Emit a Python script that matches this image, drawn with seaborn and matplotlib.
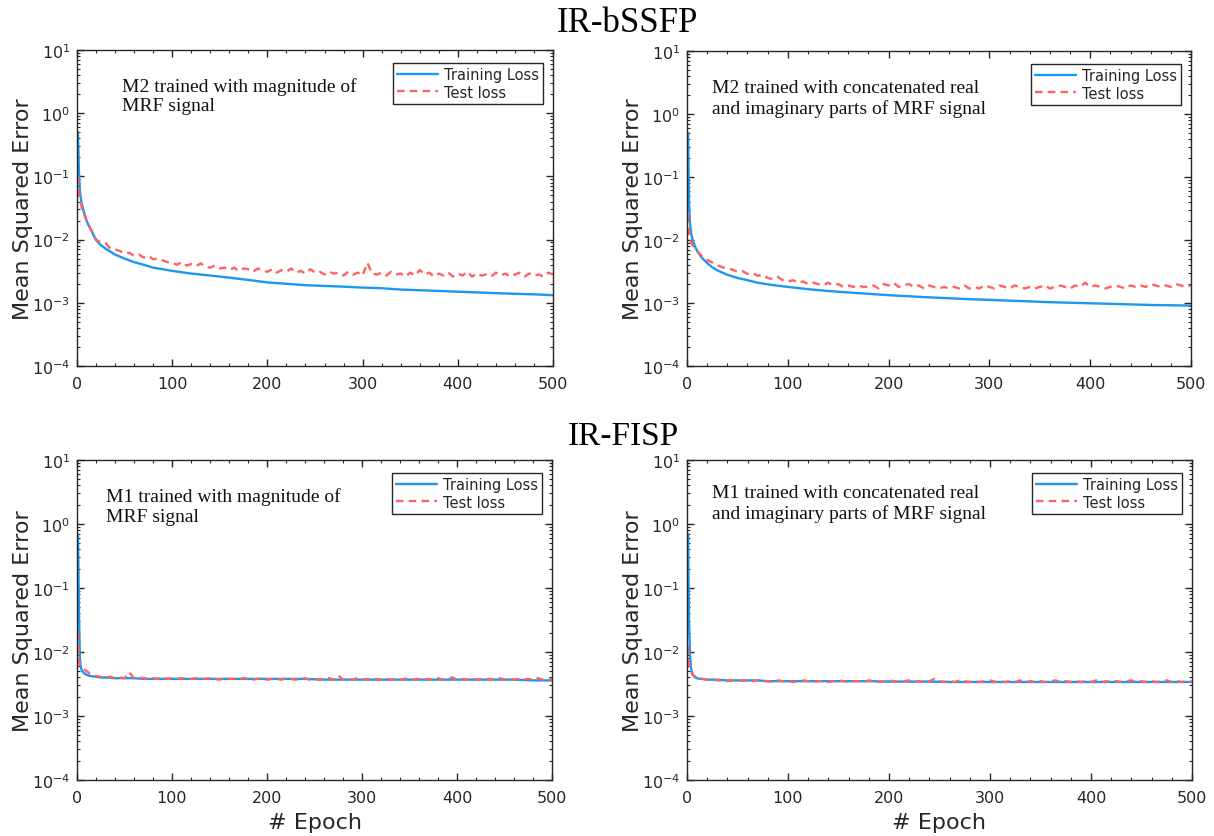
import numpy as np
import pandas as pd
import matplotlib
matplotlib.use("Agg")
import matplotlib.pyplot as plt
from matplotlib.ticker import MultipleLocator, LogLocator, NullFormatter
import seaborn as sns

# ---------------- data ----------------
ep_train = [1, 2, 3, 4, 5, 6, 8, 10, 12, 15, 20, 25, 30, 40, 50, 60, 70, 80, 90, 100,
            120, 140, 160, 180, 200, 220, 240, 260, 280, 300, 320, 340, 360, 380, 400,
            420, 440, 460, 480, 500]

ep_test = [1, 2, 3] + list(range(5, 501, 5))

# IR-bSSFP, magnitude
bssfp_mag_train = [0.5, 0.12, 0.06, 0.045, 0.037, 0.032, 0.025, 0.020, 0.017, 0.014,
                   0.0098, 0.0082, 0.0072, 0.0058, 0.0050, 0.0044, 0.0040, 0.0036, 0.0034, 0.0032,
                   0.0029, 0.0027, 0.0025, 0.0023, 0.0021, 0.0020, 0.0019, 0.00185, 0.0018, 0.00174,
                   0.0017, 0.00162, 0.00158, 0.00154, 0.0015, 0.00146, 0.00142, 0.00139, 0.00136, 0.00132]
bssfp_mag_test = [0.10, 0.06, 0.045,
                  0.032, 0.020, 0.014, 0.0100, 0.0090, 0.0088, 0.0072, 0.0070, 0.0066, 0.0060,
                  0.0062, 0.0055, 0.0058, 0.0052, 0.0055, 0.0049, 0.0050, 0.0047, 0.0044, 0.0043,
                  0.0040, 0.0044, 0.0039, 0.0041, 0.0038, 0.0042, 0.0037, 0.0036, 0.0039, 0.0035,
                  0.0036, 0.0033, 0.0036, 0.0032, 0.0035, 0.0034, 0.0031, 0.0035, 0.0032, 0.0031,
                  0.0034, 0.0030, 0.0033, 0.0031, 0.0035, 0.0030, 0.0032, 0.0029, 0.0034, 0.0030,
                  0.0031, 0.0028, 0.0031, 0.0029, 0.0030, 0.0027, 0.0031, 0.0028, 0.0030, 0.0027,
                  0.0043, 0.0029, 0.0028, 0.0030, 0.0027, 0.0031, 0.0028, 0.0029, 0.0026, 0.0030,
                  0.0027, 0.0033, 0.0028, 0.0030, 0.0026, 0.0029, 0.0027, 0.0030, 0.0026, 0.0029,
                  0.0027, 0.0031, 0.0026, 0.0029, 0.0027, 0.0028, 0.0026, 0.0030, 0.0027, 0.0029,
                  0.0026, 0.0028, 0.0030, 0.0026, 0.0029, 0.0027, 0.0028, 0.0026, 0.0030, 0.0028]

# IR-bSSFP, real + imaginary
bssfp_ri_train = [0.5, 0.04, 0.018, 0.013, 0.011, 0.0095, 0.0078, 0.0068, 0.0060, 0.0052,
                  0.0043, 0.0037, 0.0033, 0.0028, 0.0025, 0.0023, 0.0021, 0.00198, 0.00188, 0.0018,
                  0.00166, 0.00155, 0.00147, 0.0014, 0.00133, 0.00128, 0.00123, 0.00119, 0.00115, 0.00112,
                  0.00109, 0.00106, 0.00103, 0.00101, 0.00099, 0.00097, 0.00095, 0.00093, 0.00092, 0.00091]
bssfp_ri_test = [0.025, 0.013, 0.010,
                 0.0085, 0.0066, 0.0055, 0.0048, 0.0044, 0.0040, 0.0037, 0.0035, 0.0034, 0.0031,
                 0.0032, 0.0029, 0.0030, 0.0027, 0.0028, 0.0025, 0.0024, 0.0026, 0.0023, 0.0022,
                 0.0023, 0.0021, 0.0022, 0.0020, 0.0021, 0.0020, 0.0019, 0.0021, 0.0019, 0.0020,
                 0.0018, 0.0019, 0.0018, 0.0019, 0.0018, 0.0018, 0.0019, 0.0017, 0.0020, 0.0019,
                 0.0021, 0.0018, 0.0019, 0.0020, 0.0018, 0.0019, 0.0017, 0.0019, 0.0018, 0.0017,
                 0.0018, 0.0017, 0.0018, 0.0017, 0.0019, 0.0017, 0.0018, 0.0017, 0.0019, 0.0018,
                 0.0017, 0.0019, 0.0018, 0.0017, 0.0019, 0.0018, 0.0017, 0.0018, 0.0017, 0.0018,
                 0.0019, 0.0017, 0.0018, 0.0019, 0.0018, 0.0017, 0.0019, 0.0018, 0.0021, 0.0018,
                 0.0019, 0.0018, 0.0017, 0.0018, 0.0019, 0.0018, 0.0017, 0.0019, 0.0018, 0.0019,
                 0.0018, 0.0020, 0.0019, 0.0018, 0.0019, 0.0018, 0.0020, 0.0019, 0.0018, 0.0019]

# IR-FISP, magnitude
fisp_mag_train = [0.7, 0.05, 0.008, 0.0058, 0.0052, 0.0049, 0.0046, 0.0044, 0.0043, 0.0042,
                  0.0041, 0.0040, 0.0040, 0.0039, 0.0039, 0.0039, 0.0038, 0.0038, 0.0038, 0.0038,
                  0.0038, 0.0038, 0.0038, 0.0038, 0.0038, 0.0038, 0.0038, 0.0037, 0.0037, 0.0037,
                  0.0037, 0.0037, 0.0037, 0.0037, 0.0037, 0.0037, 0.0037, 0.0037, 0.0036, 0.0036]
fisp_mag_test = [0.020, 0.008, 0.0062,
                 0.0058, 0.0050, 0.0045, 0.0042, 0.0041, 0.0040, 0.0041, 0.0039, 0.0040, 0.0039,
                 0.0048, 0.0039, 0.0040, 0.0039, 0.0038, 0.0039, 0.0038, 0.0040, 0.0038, 0.0039,
                 0.0038, 0.0039, 0.0038, 0.0038, 0.0039, 0.0038, 0.0038, 0.0039, 0.0038, 0.0037,
                 0.0039, 0.0038, 0.0038, 0.0037, 0.0039, 0.0038, 0.0037, 0.0038, 0.0039, 0.0037,
                 0.0038, 0.0038, 0.0037, 0.0039, 0.0038, 0.0037, 0.0038, 0.0039, 0.0037, 0.0038,
                 0.0037, 0.0038, 0.0039, 0.0037, 0.0043, 0.0037, 0.0038, 0.0037, 0.0039, 0.0037,
                 0.0038, 0.0037, 0.0038, 0.0037, 0.0039, 0.0037, 0.0038, 0.0037, 0.0038, 0.0039,
                 0.0037, 0.0038, 0.0037, 0.0038, 0.0037, 0.0039, 0.0037, 0.0038, 0.0040, 0.0037,
                 0.0038, 0.0037, 0.0039, 0.0037, 0.0038, 0.0037, 0.0038, 0.0037, 0.0039, 0.0037,
                 0.0038, 0.0037, 0.0038, 0.0037, 0.0038, 0.0037, 0.0039, 0.0037, 0.0038, 0.0037]

# IR-FISP, real + imaginary
fisp_ri_train = [0.7, 0.03, 0.009, 0.0055, 0.0048, 0.0043, 0.0040, 0.0039, 0.0038, 0.0038,
                 0.0037, 0.0037, 0.0037, 0.0036, 0.0036, 0.0036, 0.0036, 0.0035, 0.0035, 0.0035,
                 0.0035, 0.0035, 0.0035, 0.0035, 0.00345, 0.00345, 0.00345, 0.0034, 0.0034, 0.0034,
                 0.0034, 0.0034, 0.0034, 0.0034, 0.0034, 0.0034, 0.0034, 0.0034, 0.0034, 0.0034]
fisp_ri_test = [0.012, 0.007, 0.0055,
                0.0045, 0.0039, 0.0038, 0.0037, 0.0037, 0.0036, 0.0036, 0.0035, 0.0036, 0.0035,
                0.0036, 0.0035, 0.0035, 0.0036, 0.0035, 0.0035, 0.0034, 0.0036, 0.0035, 0.0035,
                0.0034, 0.0035, 0.0036, 0.0035, 0.0034, 0.0035, 0.0035, 0.0034, 0.0035, 0.0036,
                0.0035, 0.0034, 0.0035, 0.0035, 0.0034, 0.0036, 0.0035, 0.0034, 0.0035, 0.0036,
                0.0035, 0.0034, 0.0035, 0.0036, 0.0034, 0.0035, 0.0034, 0.0035, 0.0038, 0.0035,
                0.0034, 0.0035, 0.0034, 0.0036, 0.0035, 0.0034, 0.0035, 0.0034, 0.0035, 0.0036,
                0.0034, 0.0035, 0.0034, 0.0035, 0.0034, 0.0036, 0.0034, 0.0035, 0.0034, 0.0035,
                0.0034, 0.0035, 0.0036, 0.0034, 0.0035, 0.0034, 0.0035, 0.0034, 0.0035, 0.0034,
                0.0036, 0.0034, 0.0035, 0.0034, 0.0035, 0.0034, 0.0035, 0.0036, 0.0034, 0.0035,
                0.0034, 0.0035, 0.0034, 0.0035, 0.0036, 0.0034, 0.0035, 0.0034, 0.0035, 0.0034]

panel_titles = ["IR-bSSFP", "IR-FISP"]
panel_notes = ["M2 trained with magnitude of\nMRF signal",
               "M2 trained with concatenated real\nand imaginary parts of MRF signal",
               "M1 trained with magnitude of\nMRF signal",
               "M1 trained with concatenated real\nand imaginary parts of MRF signal"]
series_labels = ["Training Loss", "Test loss"]
xticks = [0, 100, 200, 300, 400, 500]

# ---------------- style ----------------
sns.set_theme(style="ticks")
plt.rcParams["font.family"] = ["DejaVu Sans"]
plt.rcParams["axes.edgecolor"] = "#262626"
plt.rcParams["axes.linewidth"] = 1.0

train_color = "#1a98f2"
test_color = "#ff6262"
serif = ["Liberation Serif", "DejaVu Serif"]

fig = plt.figure(figsize=(12.14, 8.37), dpi=100)

W, H = 1214.0, 837.0
boxes = [(77, 51, 553, 367), (687, 52, 1191, 367),
         (77, 461, 552, 781), (687, 461, 1192, 781)]
note_pos = [(0.095, 0.915), (0.05, 0.91), (0.06, 0.915), (0.05, 0.925)]
data = [(bssfp_mag_train, bssfp_mag_test), (bssfp_ri_train, bssfp_ri_test),
        (fisp_mag_train, fisp_mag_test), (fisp_ri_train, fisp_ri_test)]

for i, ((x0, y0, x1, y1), (tr, te)) in enumerate(zip(boxes, data)):
    aw, ah = (x1 - x0), (y1 - y0)
    ax = fig.add_axes([x0 / W, 1 - y1 / H, aw / W, ah / H])
    df_tr = pd.DataFrame({"epoch": ep_train, "mse": tr})
    df_te = pd.DataFrame({"epoch": ep_test, "mse": te})
    sns.lineplot(data=df_tr, x="epoch", y="mse", ax=ax, color=train_color,
                 linewidth=1.7, label=series_labels[0], estimator=None, sort=False)
    sns.lineplot(data=df_te, x="epoch", y="mse", ax=ax, color=test_color,
                 linewidth=1.7, linestyle=(0, (3.2, 2.2)), label=series_labels[1],
                 estimator=None, sort=False)
    ax.set_yscale("log")
    ax.set_ylim(1e-4, 1e1)
    ax.set_xlim(0, 500)
    ax.set_xticks(xticks)
    ax.xaxis.set_minor_locator(MultipleLocator(20))
    ax.yaxis.set_major_locator(LogLocator(base=10, numticks=10))
    ax.yaxis.set_minor_locator(LogLocator(base=10, subs=np.arange(2, 10), numticks=20))
    ax.yaxis.set_minor_formatter(NullFormatter())
    ax.tick_params(axis="both", which="major", direction="in", length=5, width=1.0,
                   top=True, right=True, labelsize=11.5, colors="#262626")
    ax.tick_params(axis="x", which="major", pad=7)
    ax.tick_params(axis="y", which="major", pad=5)
    ax.tick_params(axis="both", which="minor", direction="in", length=2.5, width=0.8,
                   top=True, right=True)
    ax.set_ylabel("Mean Squared Error", fontsize=16, color="#262626", labelpad=-1)
    if i >= 2:
        ax.set_xlabel("# Epoch", fontsize=16, color="#262626", labelpad=5)
    else:
        ax.set_xlabel("")
    for sp in ax.spines.values():
        sp.set_visible(True)
        sp.set_color("#262626")
    ax.set_facecolor("white")
    leg = ax.legend(loc="upper right", bbox_to_anchor=(1 - 10 / aw, 1 - 13 / ah),
                    fontsize=10.5, frameon=True, fancybox=False,
                    framealpha=1, edgecolor="#262626", handlelength=2.8,
                    borderaxespad=0.0, borderpad=0.3, labelspacing=0.15,
                    handletextpad=0.4)
    leg.get_frame().set_linewidth(1.0)
    nx, ny = note_pos[i]
    ax.text(nx, ny, panel_notes[i], transform=ax.transAxes, ha="left", va="top",
            fontsize=14, family=serif, color="#111111", linespacing=1.2)

fig.text(0.5165, 1 - 32 / H, panel_titles[0], ha="center", va="baseline",
         fontsize=25, family=serif, color="black")
fig.text(0.5135, 1 - 445 / H, panel_titles[1], ha="center", va="baseline",
         fontsize=24, family=serif, color="black")

fig.savefig("out.png", dpi=100, facecolor="white")
